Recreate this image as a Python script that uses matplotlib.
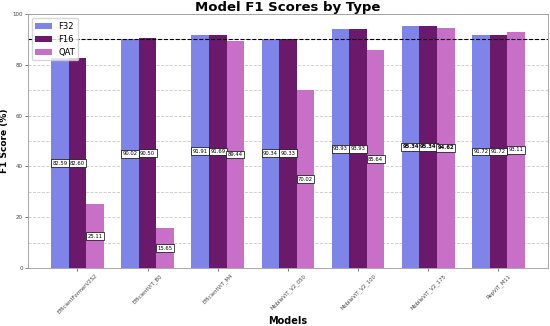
import numpy as np
import matplotlib.pyplot as plt
from matplotlib.ticker import MultipleLocator

models = ["EfficientFormerV2S2", "EfficientViT_B0", "EfficientViT_M4", "MobileViT_V2_050",
          "MobileViT_V2_100", "MobileViT_V2_175", "RepViT_M11"]
f32 = [82.59, 90.02, 91.91, 90.34, 93.93, 95.34, 91.72]
f16 = [82.60, 90.50, 91.69, 90.33, 93.93, 95.34, 91.72]
qat = [25.11, 15.65, 89.44, 70.02, 85.64, 94.62, 93.11]
best = "MobileViT_V2_175"

x = np.arange(len(models))
w = 0.25

fig, ax = plt.subplots(figsize=(5.5, 3.26), dpi=100)
fig.subplots_adjust(left=0.05, right=0.997, top=0.957, bottom=0.178)

series = [("F32", f32, "#7f85e8"), ("F16", f16, "#6b1a6b"), ("QAT", qat, "#c86fc8")]
for i, (name, vals, col) in enumerate(series):
    pos = x + (i - 1) * w
    ax.bar(pos, vals, w, label=name, color=col)
    for j, (p, v) in enumerate(zip(pos, vals)):
        ax.text(p, v / 2, f"{v:.2f}", ha="center", va="center", fontsize=3.8,
                fontweight="bold" if models[j] == best else "normal",
                bbox=dict(facecolor="white", edgecolor="black", linewidth=0.5, pad=1.0))

ax.axhline(90, color="black", linestyle="--", linewidth=0.8)

ax.set_ylim(0, 100)
ax.yaxis.set_major_locator(MultipleLocator(20))
ax.yaxis.set_minor_locator(MultipleLocator(10))
ax.grid(axis="y", which="both", linestyle="--", color="#bbbbbb", linewidth=0.6, alpha=0.8)
ax.set_axisbelow(True)
ax.tick_params(axis="y", which="minor", length=0)
ax.tick_params(labelsize=4, length=2, width=0.5, colors="#444444", pad=1.5)

ax.set_xticks(x)
ax.set_xticklabels(models, rotation=45, fontsize=3.8)

for s in ax.spines.values():
    s.set_color("#999999")
    s.set_linewidth(0.6)

ax.set_title("Model F1 Scores by Type", fontsize=9.5, fontweight="bold", pad=2)
ax.set_xlabel("Models", fontsize=7, fontweight="bold", labelpad=1)
ax.set_ylabel("F1 Score (%)", fontsize=6.5, fontweight="bold", labelpad=2)
ax.legend(loc="upper left", fontsize=6)

fig.savefig("out.png", dpi=100)
